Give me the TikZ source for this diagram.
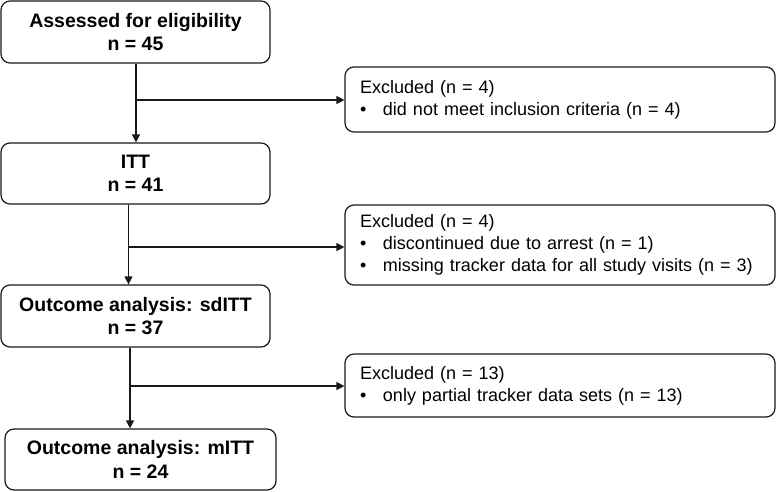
\documentclass[tikz,border=0pt]{standalone}
\usepackage{fontspec}
\setmainfont{Liberation Sans}
\usetikzlibrary{arrows.meta}
\tikzset{
  mainbox/.style={draw=black!90, line width=1.2pt, rounded corners=9pt, align=center,
    font=\fontsize{19.5}{23.4}\selectfont\bfseries, inner sep=0pt, minimum height=62pt},
  exclbox/.style={draw=black!90, line width=1.2pt, rounded corners=9pt, align=left,
    font=\fontsize{18}{22}\selectfont, inner xsep=15pt, inner ysep=0pt,
    text width=400pt, minimum width=430pt},
  arr/.style={line width=1.2pt, draw=black!90, -{Triangle[length=8pt,width=8pt]}},
  ln/.style={line width=1.2pt, draw=black!90}
}
\newcommand{\bitem}{\makebox[23pt][l]{\textbullet}}
\begin{document}
\begin{tikzpicture}[x=1pt,y=-1pt]
\useasboundingbox (0,0) rectangle (776,491);
\fill[white] (0,0) rectangle (776,491);
\node[mainbox, minimum width=269pt] (a) at (135.5,32) {Assessed for eligibility\\n = 45};
\node[mainbox, minimum width=269pt, minimum height=61pt] (b) at (135.5,173.5) {ITT\\n = 41};
\node[mainbox, minimum width=269pt] (c) at (135.5,316) {Outcome analysis: sdITT\\n = 37};
\node[mainbox, minimum width=271pt, minimum height=61pt] (d) at (140.5,459.5) {Outcome analysis: mITT\\n = 24};

\node[exclbox, minimum height=65pt] (e1) at (560,99.5) {Excluded (n = 4)\\\bitem did not meet inclusion criteria (n = 4)};
\node[exclbox, minimum height=80pt] (e2) at (560,245) {Excluded (n = 4)\\\bitem discontinued due to arrest (n = 1)\\\bitem missing tracker data for all study visits (n = 3)};
\node[exclbox, minimum height=63pt] (e3) at (560,385.5) {Excluded (n = 13)\\\bitem only partial tracker data sets (n = 13)};

\coordinate (j1) at (136,100);
\coordinate (j2) at (128.5,247);
\coordinate (j3) at (130,386);

\draw[arr] (a.south -| j1) -- (b.north -| j1);
\draw[arr] (j1) -- (e1.west |- j1);
\draw[arr] (b.south -| j2) -- (c.north -| j2);
\draw[arr] (j2) -- (e2.west |- j2);
\draw[arr] (c.south -| j3) -- (d.north -| j3);
\draw[arr] (j3) -- (e3.west |- j3);
\end{tikzpicture}
\end{document}
